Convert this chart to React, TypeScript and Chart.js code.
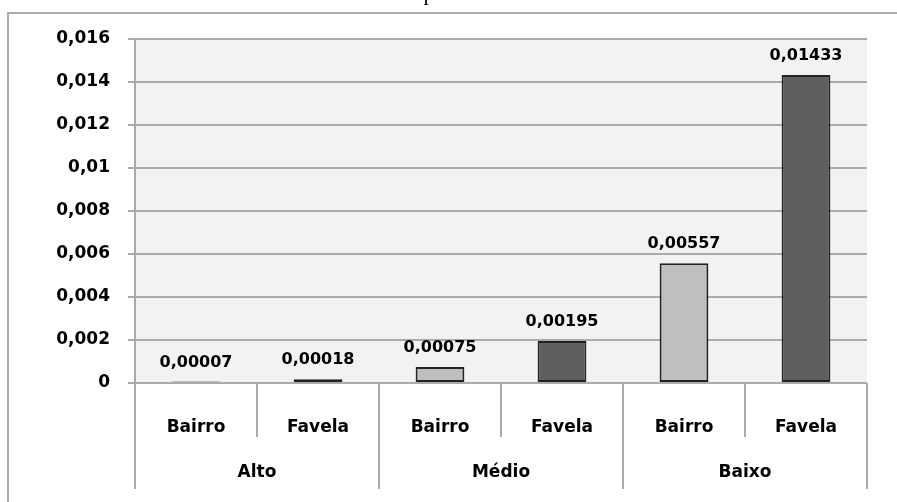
import React, { useEffect, useRef } from "react";
import { Chart, registerables } from "chart.js";

Chart.register(...registerables);

const categories = ["Bairro", "Favela", "Bairro", "Favela", "Bairro", "Favela"];
const groups = ["Alto", "Médio", "Baixo"];
const values = [0.00007, 0.00018, 0.00075, 0.00195, 0.00557, 0.01433];
const valueLabels = ["0,00007", "0,00018", "0,00075", "0,00195", "0,00557", "0,01433"];
const titleFragment = "p";

const LIGHT = "#BFBFBF";
const DARK = "#5F5F5F";
const LINE = "#ABABAB";
const TEXT = "#000";
const FONT = "'DejaVu Sans', Verdana, sans-serif";

const fmt = (v: number) => {
  if (Math.abs(v) < 1e-9) return "0";
  return parseFloat(v.toFixed(3)).toString().replace(".", ",");
};

const decorPlugin = {
  id: "decor",
  beforeDraw(chart: any) {
    const { ctx, chartArea } = chart;
    ctx.save();
    ctx.fillStyle = "#F2F2F2";
    ctx.fillRect(chartArea.left, chartArea.top, chartArea.right - chartArea.left, chartArea.bottom - chartArea.top);
    ctx.strokeStyle = LINE;
    ctx.lineWidth = 2;
    ctx.beginPath();
    ctx.moveTo(8, 502);
    ctx.lineTo(8, 13);
    ctx.lineTo(897, 13);
    ctx.stroke();
    ctx.fillStyle = "#000";
    ctx.font = "22px 'Liberation Serif', 'Times New Roman', serif";
    ctx.textAlign = "center";
    ctx.textBaseline = "alphabetic";
    ctx.fillText(titleFragment, 429, 0);
    ctx.restore();
  },
  afterDraw(chart: any) {
    const { ctx, chartArea } = chart;
    const xs = chart.scales.x;
    const n = categories.length;
    const w = (chartArea.right - chartArea.left) / n;
    ctx.save();
    ctx.strokeStyle = LINE;
    ctx.lineWidth = 2;
    for (let i = 0; i <= n; i++) {
      const x = i < n ? xs.getPixelForValue(i) - w / 2 : xs.getPixelForValue(n - 1) + w / 2;
      const long = i % 2 === 0;
      ctx.beginPath();
      ctx.moveTo(x, chartArea.bottom);
      ctx.lineTo(x, long ? 489 : 437);
      ctx.stroke();
    }
    ctx.fillStyle = TEXT;
    ctx.font = `bold 17px ${FONT}`;
    ctx.textAlign = "center";
    ctx.textBaseline = "middle";
    groups.forEach((g, gi) => {
      const cx = (xs.getPixelForValue(gi * 2) + xs.getPixelForValue(gi * 2 + 1)) / 2;
      ctx.fillText(g, cx, 473);
    });
    const meta = chart.getDatasetMeta(0);
    ctx.font = `bold 16px ${FONT}`;
    meta.data.forEach((bar: any, i: number) => {
      ctx.fillText(valueLabels[i], bar.x, bar.y - 19);
    });
    ctx.restore();
  },
};

export default function App() {
  const ref = useRef<HTMLCanvasElement | null>(null);
  useEffect(() => {
    document.body.style.margin = "0";
    const chart = new Chart(ref.current as HTMLCanvasElement, {
      type: "bar",
      data: {
        labels: categories,
        datasets: [
          {
            data: values,
            backgroundColor: values.map((_, i) => (i % 2 === 0 ? LIGHT : DARK)),
            borderColor: "#222222",
            borderWidth: 2,
            borderSkipped: false,
            categoryPercentage: 1,
            barPercentage: 0.4,
          },
        ],
      },
      options: {
        responsive: false,
        animation: false,
        layout: { padding: { top: 39, right: 30, bottom: 0, left: 0 } },
        plugins: { legend: { display: false }, tooltip: { enabled: false }, title: { display: false } },
        scales: {
          x: {
            grid: { display: false },
            border: { display: false },
            ticks: { color: TEXT, font: { family: FONT, size: 17, weight: "bold" }, padding: 26, maxRotation: 0 },
            afterFit: (s: any) => {
              s.height = 119;
            },
          },
          y: {
            min: 0,
            max: 0.016,
            grid: { color: LINE, lineWidth: 2, tickLength: 7 },
            border: { display: true, color: LINE, width: 2 },
            ticks: {
              stepSize: 0.002,
              padding: 18,
              color: TEXT,
              font: { family: FONT, size: 17, weight: "bold" },
              callback: (v: any) => fmt(Number(v)),
            },
            afterFit: (s: any) => {
              s.width = 135;
            },
          },
        },
      },
      plugins: [decorPlugin],
    });
    return () => chart.destroy();
  }, []);
  return (
    <div style={{ position: "absolute", left: 0, top: 0, width: 897, height: 502 }}>
      <canvas ref={ref} width={897} height={502} style={{ display: "block" }} />
    </div>
  );
}
